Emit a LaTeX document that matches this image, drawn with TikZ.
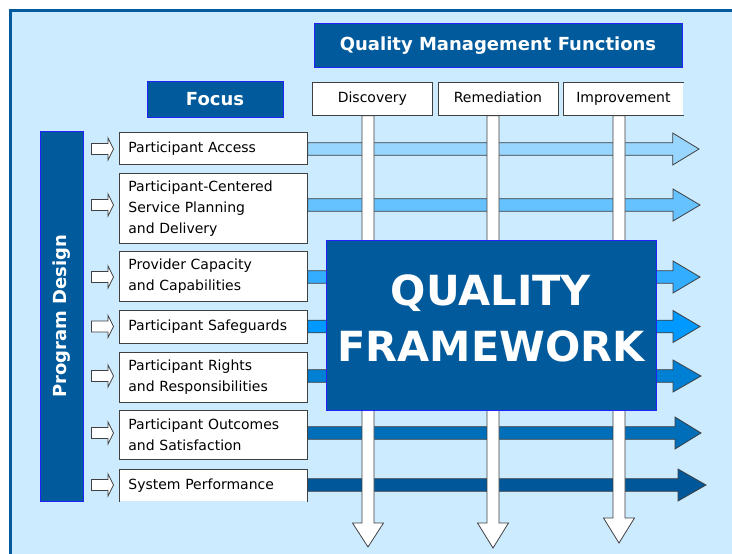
\documentclass[tikz,border=0pt]{standalone}
\usepackage{fontspec}
\setmainfont{DejaVu Sans}
\usetikzlibrary{calc}
\definecolor{bgblue}{HTML}{CCEBFF}
\definecolor{navy}{HTML}{005A9C}
\definecolor{edgeblue}{HTML}{2222FF}
\definecolor{aone}{HTML}{99D6FF}
\definecolor{atwo}{HTML}{66C2FF}
\definecolor{athree}{HTML}{33ADFF}
\definecolor{afour}{HTML}{0099FF}
\definecolor{afive}{HTML}{0080D4}
\definecolor{asix}{HTML}{006EB8}
\definecolor{aseven}{HTML}{00589A}
\newcommand\harrow[4]{%
  \filldraw[blockedge, fill=#3] let \p1=(#1.east), \p2=(#2) in
   (\x1,\y2+6.3pt) -- (\x2-#4,\y2+6.3pt) -- (\x2-#4,\y2+16pt) -- (\x2,\y2)
   -- (\x2-#4,\y2-16pt) -- (\x2-#4,\y2-6.3pt) -- (\x1,\y2-6.3pt) -- cycle;}
\newcommand\varrow[3]{%
  \filldraw[blockedge, fill=white] let \p1=(#1.south), \p2=(#2) in
   (\x2-6pt,\y1) -- (\x2-6pt,\y2+#3) -- (\x2-15.5pt,\y2+#3) -- (\x2,\y2)
   -- (\x2+15.5pt,\y2+#3) -- (\x2+6pt,\y2+#3) -- (\x2+6pt,\y1) -- cycle;}
\newcommand\smallarrow[2]{%
  \filldraw[blockedge, fill=white] let \p1=(#1.west), \p2=(#2) in
   (\x1-27.5pt,\y2+5.5pt) -- (\x1-11pt,\y2+5.5pt) -- (\x1-11pt,\y2+11pt) -- (\x1-5.5pt,\y2)
   -- (\x1-11pt,\y2-11pt) -- (\x1-11pt,\y2-5.5pt) -- (\x1-27.5pt,\y2-5.5pt) -- cycle;}
\begin{document}
\begin{tikzpicture}[x=1pt,y=-1pt,
  blockedge/.style={draw=black!75, line width=0.8pt, line join=miter},
  focusbox/.style={draw=black!75, fill=white, line width=0.8pt, text width=170pt,
    align=left, inner xsep=9pt, inner ysep=0pt, anchor=north west,
    font=\fontsize{14}{21}\selectfont},
  hdrbox/.style={draw=black!75, fill=white, line width=0.8pt, minimum width=120pt,
    minimum height=33pt, inner sep=0pt, text height=10.5pt, text depth=3.5pt,
    anchor=north west, font=\fontsize{14}{17}\selectfont},
  titlebox/.style={fill=navy, draw=edgeblue, line width=0.8pt, text=white, inner sep=0pt,
    font=\bfseries\fontsize{18}{22}\selectfont},
  bigtext/.style={text=white, inner sep=0pt, anchor=base, font=\bfseries\fontsize{41.5}{50}\selectfont}]
\useasboundingbox (0,0) rectangle (732,554);
% background frame
\fill[white] (0,0) rectangle (732,554);
\fill[bgblue] (10.6,10.6) rectangle (732,554);
\draw[navy, line width=3.3pt] (10.6,560) -- (10.6,10.6) -- (740,10.6);

% tips of the arrows
\coordinate (t1) at (699,149);
\coordinate (t2) at (700,205);
\coordinate (t3) at (700,277);
\coordinate (t4) at (700,326.5);
\coordinate (t5) at (701,376);
\coordinate (t6) at (701,433);
\coordinate (t7) at (706,485);
\coordinate (v1) at (368,547);
\coordinate (v2) at (493,548);
\coordinate (v3) at (619,543);

% header boxes (nodes first, drawn later on top)
\path (312,82) node[hdrbox, draw=none, fill=none] (disc) {}
      (437.5,82) node[hdrbox, draw=none, fill=none] (reme) {}
      (563,82) node[hdrbox, draw=none, fill=none] (impr) {};

% focus boxes positions
\path (119,131.7) node[focusbox, draw=none, fill=none, minimum height=32.3pt] (f1) {}
      (119,173) node[focusbox, draw=none, fill=none, minimum height=70pt] (f2) {}
      (119,251) node[focusbox, draw=none, fill=none, minimum height=50pt] (f3) {}
      (119,310) node[focusbox, draw=none, fill=none, minimum height=33pt] (f4) {}
      (119,352) node[focusbox, draw=none, fill=none, minimum height=50pt] (f5) {}
      (119,410) node[focusbox, draw=none, fill=none, minimum height=49pt] (f6) {}
      (119,469) node[focusbox, draw=none, fill=none, minimum height=32pt] (f7) {};

% horizontal arrows
\harrow{f1}{t1}{aone}{26.3pt}
\harrow{f2}{t2}{atwo}{27pt}
\harrow{f3}{t3}{athree}{27pt}
\harrow{f4}{t4}{afour}{27pt}
\harrow{f5}{t5}{afive}{28pt}
\harrow{f6}{t6}{asix}{26pt}
\harrow{f7}{t7}{aseven}{28pt}

% vertical arrows
\varrow{disc}{v1}{24pt}
\varrow{reme}{v2}{25pt}
\varrow{impr}{v3}{25pt}

% header boxes drawn
\node[hdrbox] (discb) at (312,82) {Discovery};
\node[hdrbox] (remeb) at (437.5,82) {Remediation};
\node[hdrbox, draw=none] (imprb) at (563,82) {Improvement};
\draw[black!75, line width=0.8pt] (imprb.north east) -- (imprb.north west) -- (imprb.south west) -- (imprb.south east);

% title boxes
\node[titlebox, minimum width=368pt, minimum height=43.5pt] (qmf) at (498,45.3) {Quality Management Functions};
\node[titlebox, minimum width=136pt, minimum height=36pt] (focus) at (215,99) {Focus};
\node[titlebox, rotate=90, minimum width=370pt, minimum height=43pt] (pd) at (61.5,316) {Program Design};

% focus boxes
\node[focusbox, minimum height=32.3pt] (g1) at (119,131.7) {Participant Access};
\node[focusbox, minimum height=70pt] (g2) at (119,173) {Participant-Centered\\Service Planning\\and Delivery};
\node[focusbox, minimum height=50pt] (g3) at (119,251) {Provider Capacity\\and Capabilities};
\node[focusbox, minimum height=33pt] (g4) at (119,310) {Participant Safeguards};
\node[focusbox, minimum height=50pt] (g5) at (119,352) {Participant Rights\\and Responsibilities};
\node[focusbox, minimum height=49pt] (g6) at (119,410) {Participant Outcomes\\and Satisfaction};
\node[focusbox, draw=none, minimum height=32pt] (g7) at (119,469) {System Performance};
\draw[black!75, line width=0.8pt] (g7.south west) -- (g7.north west) -- (g7.north east) -- (g7.south east);

% small input arrows
\smallarrow{g1}{t1}
\smallarrow{g2}{t2}
\smallarrow{g3}{t3}
\smallarrow{g4}{t4}
\smallarrow{g5}{t5}
\smallarrow{g6}{t6}
\smallarrow{g7}{t7}

% quality framework
\node[fill=navy, draw=edgeblue, line width=0.8pt, minimum width=330pt, minimum height=170pt, inner sep=0pt] (qf) at (491,325) {};
\node[bigtext] (qfa) at (491,305) {QUALITY};
\node[bigtext] (qfb) at (491,361) {FRAMEWORK};
\end{tikzpicture}
\end{document}
